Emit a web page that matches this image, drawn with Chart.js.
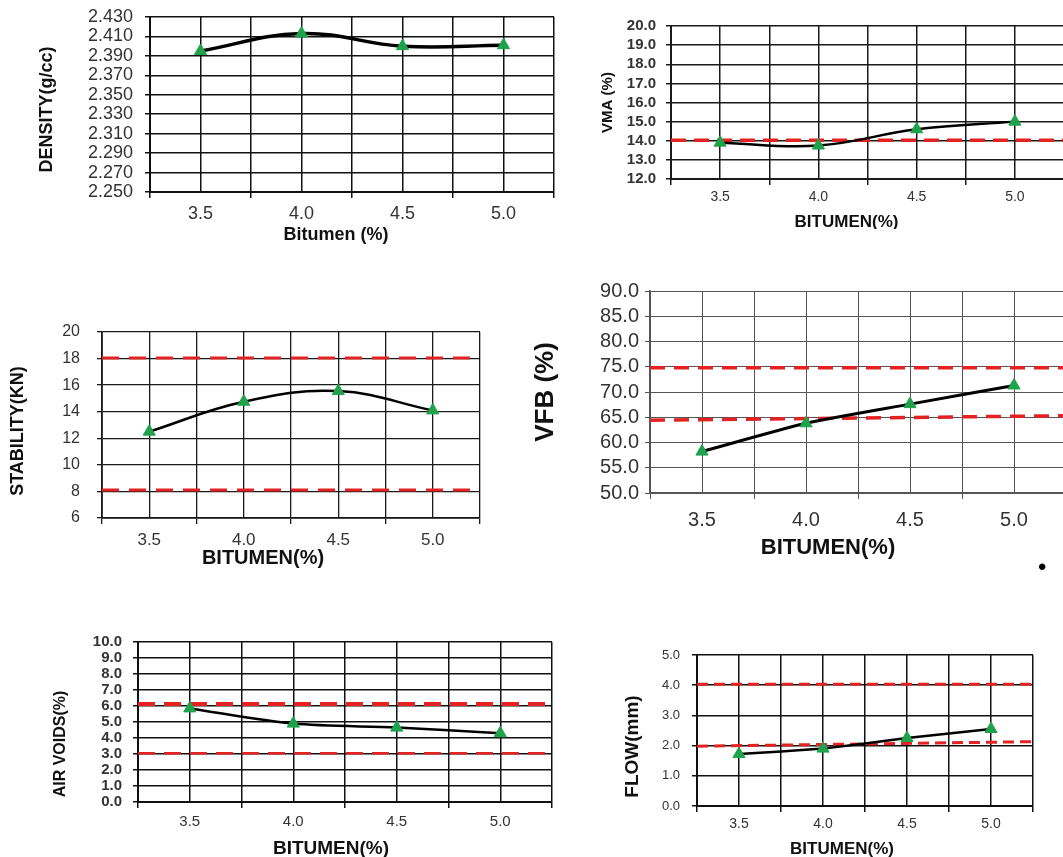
<!DOCTYPE html>
<html lang="en">
<head>
<meta charset="UTF-8">
<title>Marshall test curves against bitumen content</title>
<script src="https://cdn.jsdelivr.net/npm/chart.js@4"></script>
<style>
  html, body { margin: 0; padding: 0; background: #fff; width: 1063px; height: 857px; overflow: hidden; }
  canvas { position: absolute; }
  #dot { position: absolute; left: 1038px; top: 555px; font: 24px "Liberation Sans", Arial, sans-serif; line-height: 24px; color: #000; }
</style>
</head>
<body>
<canvas id="density"></canvas>
<canvas id="vma"></canvas>
<canvas id="stability"></canvas>
<canvas id="vfb"></canvas>
<canvas id="airVoids"></canvas>
<canvas id="flow"></canvas>
<span id="dot">•</span>

<script>
// bitumen content of the mixes (%)
const bitumen = [3.5, 4.0, 4.5, 5.0];

// measured values, one per bitumen content
const density = [2.395, 2.413, 2.400, 2.401];
const vma = [13.9, 13.75, 14.6, 15.0];
const stability = [12.5, 14.75, 15.55, 14.1];
const vfb = [58.2, 63.8, 67.6, 71.3];
const airVoids = [5.85, 4.9, 4.65, 4.3];
const flow = [1.72, 1.9, 2.25, 2.55];

// specification limits (red dashed), given at both ends of the x axis
const limitX = [3.25, 5.25];
const vmaMin = [14.03, 14.03];
const stabilityMin = [8.1, 8.1];
const stabilityMax = [18.05, 18.05];
const vfbMin = [64.4, 65.3];
const vfbMax = [74.8, 74.8];
const airVoidsMin = [3.05, 3.05];
const airVoidsMax = [6.12, 6.12];
const flowMin = [1.98, 2.13];
const flowMax = [4.03, 4.03];

const FONT = '"Liberation Sans", Arial, sans-serif';
const GREEN = '#1fa24c';
const RED = '#e42222';
const PAD_TOP = 40; // room above the plot so the top tick label never pushes it down

function isHalf(v) {
  return Math.abs(v * 2 - Math.round(v * 2)) < 1e-6;
}

// axis titles drawn by hand so they can sit off-centre like the original
const axisTitles = {
  id: 'axisTitles',
  afterDraw(chart, args, o) {
    const { ctx, chartArea: a } = chart;
    ctx.save();
    ctx.fillStyle = '#111';
    ctx.textAlign = 'center';
    ctx.textBaseline = 'middle';
    ctx.font = 'bold ' + o.xSize + 'px ' + FONT;
    ctx.fillText(o.x, (a.left + a.right) / 2 + o.xDx, a.bottom + o.xDy);
    ctx.translate(a.left - o.yDx, (a.top + a.bottom) / 2 + o.yDy);
    ctx.rotate(-Math.PI / 2);
    ctx.font = 'bold ' + o.ySize + 'px ' + FONT;
    ctx.fillText(o.y, 0, 0);
    ctx.restore();
  }
};

// s.area = [left, top, right, bottom] of the plot area on the page
function makeChart(id, s) {
  const [L, T, R, B] = s.area;
  const canvas = document.getElementById(id);
  canvas.width = s.yW + (R - L) + s.padRight;
  canvas.height = PAD_TOP + (B - T) + s.xH;
  canvas.style.left = (L - s.yW) + 'px';
  canvas.style.top = (T - PAD_TOP) + 'px';

  const datasets = [{
    data: bitumen.map((x, i) => ({ x, y: s.values[i] })),
    borderColor: '#000',
    borderWidth: s.lineW,
    tension: s.tension,
    pointStyle: 'triangle',
    pointRadius: 7,
    pointBackgroundColor: GREEN,
    pointBorderColor: GREEN,
    pointBorderWidth: 1
  }];
  s.limits.forEach((lim, k) => datasets.push({
    data: limitX.map((x, i) => ({ x, y: lim[i] })),
    borderColor: RED,
    borderWidth: s.redW[k],
    borderDash: s.dash,
    pointRadius: 0,
    tension: 0
  }));

  const grid = s.grid;
  return new Chart(canvas, {
    type: 'line',
    data: { datasets },
    options: {
      responsive: false,
      animation: false,
      layout: { padding: { top: PAD_TOP, right: s.padRight, left: 0, bottom: 0 } },
      plugins: {
        legend: { display: false },
        tooltip: { enabled: false },
        axisTitles: s.titles
      },
      scales: {
        x: {
          type: 'linear',
          min: 3.25,
          max: 5.25,
          afterFit: sc => { sc.height = s.xH; },
          ticks: {
            stepSize: 0.25,
            autoSkip: false,
            maxRotation: 0,
            padding: s.xPad,
            color: '#333',
            font: { family: FONT, size: s.xFont },
            callback: v => isHalf(v) ? v.toFixed(1) : ''
          },
          grid: {
            color: grid,
            lineWidth: s.gridW,
            tickLength: 6,
            tickColor: c => isHalf(c.tick.value) ? 'rgba(0,0,0,0)' : grid
          },
          border: { color: grid, width: s.gridW + 0.5 }
        },
        y: {
          min: s.yMin,
          max: s.yMax,
          afterFit: sc => { sc.width = s.yW; },
          ticks: {
            stepSize: s.yStep,
            autoSkip: false,
            padding: s.yPad,
            color: '#333',
            font: { family: FONT, size: s.yFont, weight: s.yBold ? 'bold' : 'normal' },
            callback: v => v.toFixed(s.yDec)
          },
          grid: { color: grid, lineWidth: s.gridW, tickLength: 5 },
          border: { color: grid, width: s.gridW + 0.5 }
        }
      }
    },
    plugins: [axisTitles]
  });
}

makeChart('density', {
  area: [150, 17, 554, 192], yW: 130, xH: 60, padRight: 10,
  values: density, limits: [], redW: [], dash: [14, 8], lineW: 3.5, tension: 0.4,
  yMin: 2.25, yMax: 2.43, yStep: 0.02, yDec: 3, yFont: 18, yPad: 12, xFont: 18, xPad: 5,
  grid: '#111', gridW: 1.5,
  titles: { x: 'Bitumen (%)', xSize: 18, xDx: -16, xDy: 43, y: 'DENSITY(g/cc)', ySize: 18, yDx: 103, yDy: 5 }
});

makeChart('vma', {
  area: [671, 26, 1066, 179], yW: 91, xH: 50, padRight: 6,
  values: vma, limits: [vmaMin], redW: [3.5], dash: [15, 8], lineW: 2.5, tension: 0.4,
  yMin: 12, yMax: 20, yStep: 1, yDec: 1, yFont: 15, yBold: true, yPad: 10, xFont: 14, xPad: 4,
  grid: '#1a1a1a', gridW: 1.5,
  titles: { x: 'BITUMEN(%)', xSize: 17, xDx: -21, xDy: 43, y: 'VMA (%)', ySize: 15, yDx: 63, yDy: 0 }
});

makeChart('stability', {
  area: [102, 332, 480, 518], yW: 102, xH: 60, padRight: 10,
  values: stability, limits: [stabilityMin, stabilityMax], redW: [3, 3], dash: [17, 10], lineW: 2.5, tension: 0.4,
  yMin: 6, yMax: 20, yStep: 2, yDec: 0, yFont: 16, yPad: 17, xFont: 17, xPad: 6,
  grid: '#1a1a1a', gridW: 1.3,
  titles: { x: 'BITUMEN(%)', xSize: 20, xDx: -28, xDy: 40, y: 'STABILITY(KN)', ySize: 18, yDx: 84, yDy: 6 }
});

makeChart('vfb', {
  area: [650, 291, 1066, 493], yW: 130, xH: 70, padRight: 10,
  values: vfb, limits: [vfbMin, vfbMax], redW: [3.5, 3.5], dash: [15, 9], lineW: 3, tension: 0.2,
  yMin: 50, yMax: 90, yStep: 5, yDec: 1, yFont: 20, yPad: 6, xFont: 20, xPad: 9,
  grid: '#555', gridW: 1,
  titles: { x: 'BITUMEN(%)', xSize: 22, xDx: -30, xDy: 55, y: 'VFB (%)', ySize: 26, yDx: 104, yDy: 0 }
});

makeChart('airVoids', {
  area: [138, 642, 552, 802], yW: 118, xH: 68, padRight: 10,
  values: airVoids, limits: [airVoidsMin, airVoidsMax], redW: [2.5, 4], dash: [17, 9], lineW: 2.5, tension: 0.3,
  yMin: 0, yMax: 10, yStep: 1, yDec: 1, yFont: 15, yBold: true, yPad: 11, xFont: 15, xPad: 5,
  grid: '#111', gridW: 1.5,
  titles: { x: 'BITUMEN(%)', xSize: 19, xDx: -14, xDy: 47, y: 'AIR VOIDS(%)', ySize: 16, yDx: 77, yDy: 22 }
});

makeChart('flow', {
  area: [697, 655, 1033, 806], yW: 97, xH: 64, padRight: 12,
  values: flow, limits: [flowMin, flowMax], redW: [3, 3], dash: [11, 6], lineW: 2.5, tension: 0.1,
  yMin: 0, yMax: 5, yStep: 1, yDec: 1, yFont: 13, yPad: 12, xFont: 14, xPad: 4,
  grid: '#111', gridW: 1.5,
  titles: { x: 'BITUMEN(%)', xSize: 17, xDx: -23, xDy: 43, y: 'FLOW(mm)', ySize: 19, yDx: 64, yDy: 16 }
});
</script>
</body>
</html>
